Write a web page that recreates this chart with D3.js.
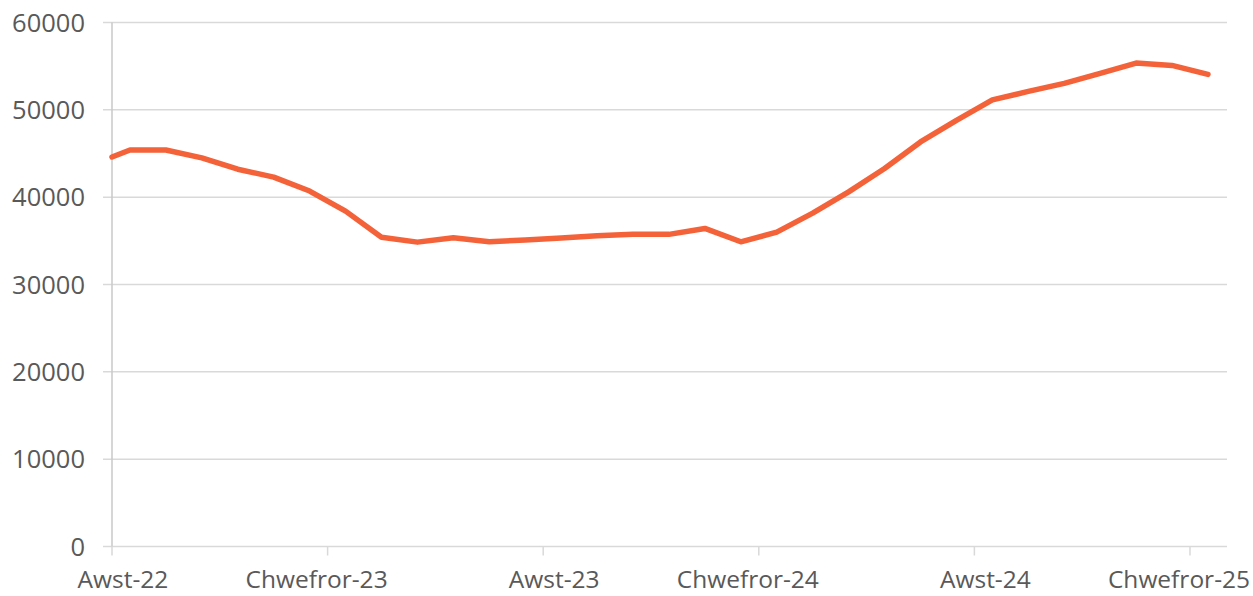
<!DOCTYPE html>
<html>
<head>
<meta charset="utf-8">
<script src="https://cdn.jsdelivr.net/npm/d3@7"></script>
<style>
  body { margin: 0; background: #fff; overflow: hidden; }
  text { font-family: "Open Sans", sans-serif; fill: #595959; }
</style>
</head>
<body>
<svg width="1253" height="596"></svg>
<script>
// data (monthly, plotted mid-month; first point at the start of Aug-22)
const dates = [
  '2022-08-01', '2022-08-16', '2022-09-16', '2022-10-16', '2022-11-16', '2022-12-16',
  '2023-01-16', '2023-02-16', '2023-03-16', '2023-04-16', '2023-05-16', '2023-06-16',
  '2023-07-16', '2023-08-16', '2023-09-16', '2023-10-16', '2023-11-16', '2023-12-16',
  '2024-01-16', '2024-02-16', '2024-03-16', '2024-04-16', '2024-05-16', '2024-06-16',
  '2024-07-16', '2024-08-16', '2024-09-16', '2024-10-16', '2024-11-16', '2024-12-16',
  '2025-01-16', '2025-02-16'
]
const values = [
  44600, 45400, 45400, 44500, 43200, 42300,
  40700, 38400, 35400, 34850, 35350, 34900,
  35100, 35330, 35580, 35740, 35740, 36420,
  34890, 36000, 38170, 40600, 43280, 46320,
  48800, 51140, 52110, 53030, 54170, 55350,
  55090, 54060
]
const tickDates = ['2022-08-01', '2023-02-01', '2023-08-01', '2024-02-01', '2024-08-01', '2025-02-01']
const tickLabels = ['Awst-22', 'Chwefror-23', 'Awst-23', 'Chwefror-24', 'Awst-24', 'Chwefror-25']
const yTicks = [0, 10000, 20000, 30000, 40000, 50000, 60000]

// month index counted from Aug 2022 (equal width per month, like the original date axis)
const monthIndex = (s) => {
  const [yr, m, d] = s.split('-').map(Number)
  return (yr - 2022) * 12 + (m - 8) + (d - 1) / 30
}

const svg = d3.select('svg')
const plotLeft = 112
const plotRight = 1227
const plotTop = 22.5
const plotBottom = 546.5

const x = d3.scaleLinear().domain([0, 31.03]).range([plotLeft, plotRight])
const y = d3.scaleLinear().domain([0, 60000]).range([plotBottom, plotTop])

// grid lines (extend left past the axis like tick marks)
svg.append('g')
  .selectAll('line')
  .data(yTicks)
  .enter()
  .append('line')
  .attr('x1', plotLeft - 9)
  .attr('x2', plotRight)
  .attr('y1', (d) => y(d))
  .attr('y2', (d) => y(d))
  .attr('stroke', '#d9d9d9')
  .attr('stroke-width', 1.5)

// y axis line
svg.append('line')
  .attr('x1', plotLeft).attr('x2', plotLeft)
  .attr('y1', plotTop).attr('y2', plotBottom)
  .attr('stroke', '#c8c8c8')
  .attr('stroke-width', 1.5)

// x ticks
svg.append('g')
  .selectAll('line')
  .data(tickDates)
  .enter()
  .append('line')
  .attr('x1', (d) => x(monthIndex(d)))
  .attr('x2', (d) => x(monthIndex(d)))
  .attr('y1', plotBottom)
  .attr('y2', plotBottom + 9)
  .attr('stroke', '#d9d9d9')
  .attr('stroke-width', 1.5)

// y labels
svg.append('g')
  .selectAll('text')
  .data(yTicks)
  .enter()
  .append('text')
  .attr('x', 85)
  .attr('y', (d) => y(d))
  .attr('dy', '0.36em')
  .attr('text-anchor', 'end')
  .style('font-size', '25.5px')
  .text((d) => d)

// x labels - the original nudges Awst labels right and Chwefror labels left of the tick
svg.append('g')
  .selectAll('text')
  .data(tickDates)
  .enter()
  .append('text')
  .attr('x', (d) => x(monthIndex(d)) + (d.slice(5, 7) === '08' ? 11 : -11))
  .attr('y', 588)
  .attr('text-anchor', 'middle')
  .style('font-size', '24.5px')
  .text((d, i) => tickLabels[i])

// the line
const line = d3.line()
  .x((d, i) => x(monthIndex(dates[i])))
  .y((d) => y(d))

svg.append('path')
  .datum(values)
  .attr('d', line)
  .attr('fill', 'none')
  .attr('stroke', '#f4623a')
  .attr('stroke-width', 5.5)
  .attr('stroke-linejoin', 'round')
  .attr('stroke-linecap', 'round')
</script>
</body>
</html>
